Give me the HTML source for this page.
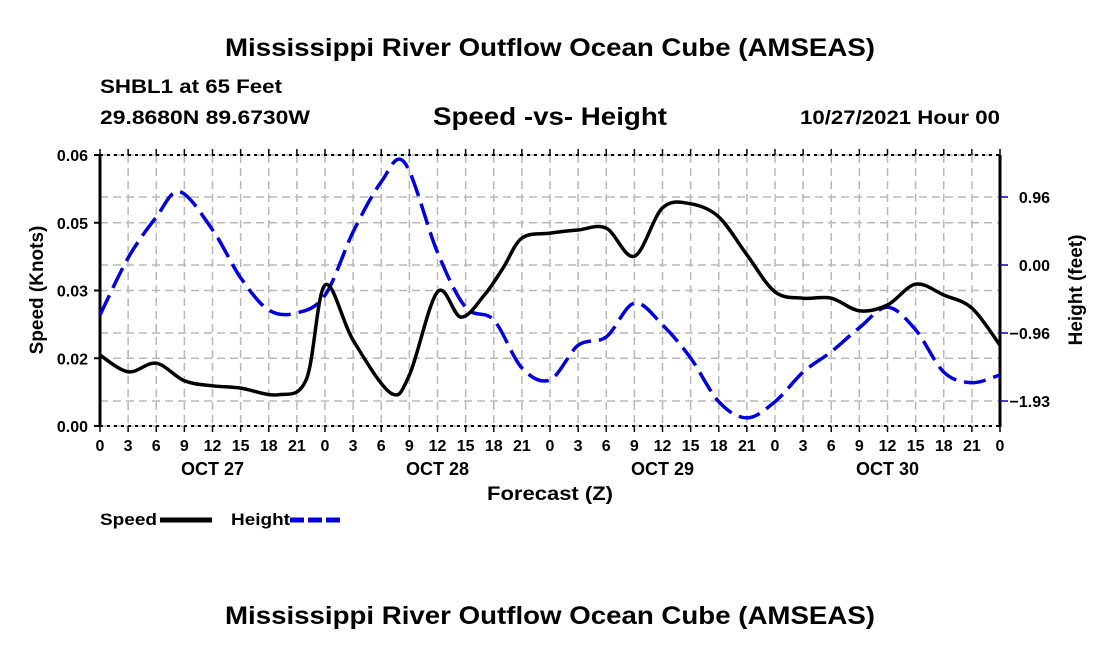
<!DOCTYPE html>
<html><head><meta charset="utf-8"><style>
body{margin:0;background:#fff;}
svg{display:block;font-family:"Liberation Sans",sans-serif;}
</style></head><body>
<svg id="chart" width="1100" height="650">
<text x="225" y="56" font-size="25" font-weight="bold" textLength="650" lengthAdjust="spacingAndGlyphs">Mississippi River Outflow Ocean Cube (AMSEAS)</text>
<text x="100" y="93" font-size="19" font-weight="bold" textLength="182" lengthAdjust="spacingAndGlyphs">SHBL1 at 65 Feet</text>
<text x="100" y="124" font-size="19" font-weight="bold" textLength="210" lengthAdjust="spacingAndGlyphs">29.8680N  89.6730W</text>
<text x="433" y="125" font-size="25" font-weight="bold" textLength="234" lengthAdjust="spacingAndGlyphs">Speed -vs- Height</text>
<text x="800" y="124" font-size="19" font-weight="bold" textLength="200" lengthAdjust="spacingAndGlyphs">10/27/2021 Hour 00</text>
<g id="grid"></g>
<g id="axes"></g>
<g id="series"></g>
<text x="487" y="500" font-size="19" font-weight="bold" textLength="126" lengthAdjust="spacingAndGlyphs">Forecast (Z)</text>
<text transform="translate(43,290) rotate(-90)" text-anchor="middle" font-size="19" font-weight="bold">Speed (Knots)</text>
<text transform="translate(1082,290) rotate(-90)" text-anchor="middle" font-size="19" font-weight="bold">Height (feet)</text>
<g>
<text x="100" y="525" font-size="17" font-weight="bold" textLength="57" lengthAdjust="spacingAndGlyphs">Speed</text>
<line x1="160" y1="520" x2="212" y2="520" stroke="#000" stroke-width="5"/>
<text x="231" y="525" font-size="17" font-weight="bold" textLength="59" lengthAdjust="spacingAndGlyphs">Height</text>
<line x1="290" y1="520" x2="342" y2="520" stroke="#0000dd" stroke-width="5" stroke-dasharray="14,4"/>
</g>
<text x="225" y="624" font-size="25" font-weight="bold" textLength="650" lengthAdjust="spacingAndGlyphs">Mississippi River Outflow Ocean Cube (AMSEAS)</text>
</svg>
<script>
const speedHours=[0,3,6,9,12,15,19,22,24,27,31,33,36,38.5,41,43,45,48,51,54,57,60,63,66,69,72,75,78,81,84,87,90,93,96];
const speedValues=[0.0157,0.0120,0.0139,0.0100,0.0089,0.0084,0.0069,0.0103,0.0312,0.0190,0.0073,0.0113,0.0297,0.0241,0.0290,0.0350,0.0416,0.0427,0.0434,0.0438,0.0376,0.0483,0.0492,0.0463,0.0379,0.0297,0.0283,0.0283,0.0255,0.0268,0.0314,0.0290,0.0261,0.0179];
const heightHours=[0,3,6,8.5,12,15,18,21,24,27,30,32.5,36,39,42,45,48,51,54,57,60,63,66,69,72,75,78,81,84,87,90,93,96];
const heightValues=[-0.71,0.10,0.68,1.04,0.50,-0.18,-0.64,-0.68,-0.43,0.47,1.18,1.45,0.18,-0.60,-0.78,-1.46,-1.63,-1.14,-1.02,-0.54,-0.85,-1.32,-1.94,-2.17,-1.94,-1.52,-1.23,-0.89,-0.60,-0.92,-1.52,-1.67,-1.56];
const speedTickValues=[0,0.015,0.03,0.045,0.06];
const speedTickLabels=["0.00","0.02","0.03","0.05","0.06"];
const heightTickValues=[0.965,0,-0.965,-1.93];
const heightTickLabels=["0.96","0.00","\u22120.96","\u22121.93"];
const xTickLabels=["0","3","6","9","12","15","18","21","0","3","6","9","12","15","18","21","0","3","6","9","12","15","18","21","0","3","6","9","12","15","18","21","0"];
const dayLabels=["OCT 27","OCT 28","OCT 29","OCT 30"];

const NS="http://www.w3.org/2000/svg";
const L=100,R=1000,T=155,B=426;
const xS=h=>L+h/96*(R-L);
const yS=v=>B-v/0.06*(B-T);
const yH=v=>265-v/0.965*68;
function mk(tag,attrs,parent){const e=document.createElementNS(NS,tag);for(const k in attrs)e.setAttribute(k,attrs[k]);parent.appendChild(e);return e;}
const grid=document.getElementById('grid'),axes=document.getElementById('axes'),series=document.getElementById('series');
for(let i=1;i<32;i++){const l=mk('line',{x1:xS(i*3),x2:xS(i*3),y1:T,y2:B,stroke:'#b8b8b8','stroke-width':1.5,'stroke-dasharray':'8,5'},grid);

}
speedTickValues.forEach(v=>{const l=mk('line',{x1:L,x2:R,y1:yS(v),y2:yS(v),stroke:'#b8b8b8','stroke-width':1.5,'stroke-dasharray':'8,5'},grid);

});
heightTickValues.forEach(v=>{const l=mk('line',{x1:L,x2:R,y1:yH(v),y2:yH(v),stroke:'#b8b8b8','stroke-width':1.5,'stroke-dasharray':'8,5'},grid);

});
const tl=mk('line',{x1:L,x2:R,y1:T,y2:T,stroke:'#000','stroke-width':2,'stroke-dasharray':'3,4'},axes);


const bl=mk('line',{x1:L,x2:R,y1:B,y2:B,stroke:'#000','stroke-width':2,'stroke-dasharray':'3,4'},axes);


const ll=mk('line',{x1:L,x2:L,y1:T,y2:B,stroke:'#000','stroke-width':3},axes);


const rl=mk('line',{x1:R,x2:R,y1:T,y2:B+1,stroke:'#000','stroke-width':3},axes);


speedTickValues.forEach((v,i)=>{
 const t=mk('line',{x1:L-6,x2:L,y1:yS(v),y2:yS(v),stroke:'#000','stroke-width':2},axes);
 
 
 const tx=mk('text',{x:L-12,y:yS(v)+6,'text-anchor':'end','font-size':16,'font-weight':'bold'},axes);tx.textContent=speedTickLabels[i];
 
 });
heightTickValues.forEach((v,i)=>{
 const t=mk('line',{x1:R,x2:R+8,y1:yH(v),y2:yH(v),stroke:'#0000cc','stroke-width':1.5},axes);
 
 
 const tx=mk('text',{x:1050,y:yH(v)+6,'text-anchor':'end','font-size':16,'font-weight':'bold'},axes);tx.textContent=heightTickLabels[i];
 
 });
xTickLabels.forEach((s,i)=>{
 const x=xS(i*3);
 const t=mk('line',{x1:x,x2:x,y1:B,y2:B+6,stroke:'#000','stroke-width':1.5},axes);
 
 
 const t2=mk('line',{x1:x,x2:x,y1:T-6,y2:T,stroke:'#000','stroke-width':1.5},axes);
 
 
 const tx=mk('text',{x:x,y:451,'text-anchor':'middle','font-size':16,'font-weight':'bold'},axes);tx.textContent=s;
 
 });
dayLabels.forEach((s,i)=>{
 const tx=mk('text',{x:xS(i*24+12),y:475,'text-anchor':'middle','font-size':18,'font-weight':'bold'},axes);tx.textContent=s;
 
 });
function smooth(pts){let d=`M${pts[0][0]},${pts[0][1]}`;
 for(let i=0;i<pts.length-1;i++){const p0=pts[Math.max(0,i-1)],p1=pts[i],p2=pts[i+1],p3=pts[Math.min(pts.length-1,i+2)];
 const c1=[p1[0]+(p2[0]-p0[0])/6,p1[1]+(p2[1]-p0[1])/6],c2=[p2[0]-(p3[0]-p1[0])/6,p2[1]-(p3[1]-p1[1])/6];
 d+=` C${c1[0].toFixed(1)},${c1[1].toFixed(1)} ${c2[0].toFixed(1)},${c2[1].toFixed(1)} ${p2[0].toFixed(1)},${p2[1].toFixed(1)}`;}
 return d;}
const hp=mk('path',{d:smooth(heightHours.map((h,i)=>[xS(h),yH(heightValues[i])])),fill:'none',stroke:'#0000dd','stroke-width':3.5,'stroke-dasharray':'22,8'},series);


const sp=mk('path',{d:smooth(speedHours.map((h,i)=>[xS(h),yS(speedValues[i])])),fill:'none',stroke:'#000','stroke-width':3.5},series);


</script>
</body></html>
